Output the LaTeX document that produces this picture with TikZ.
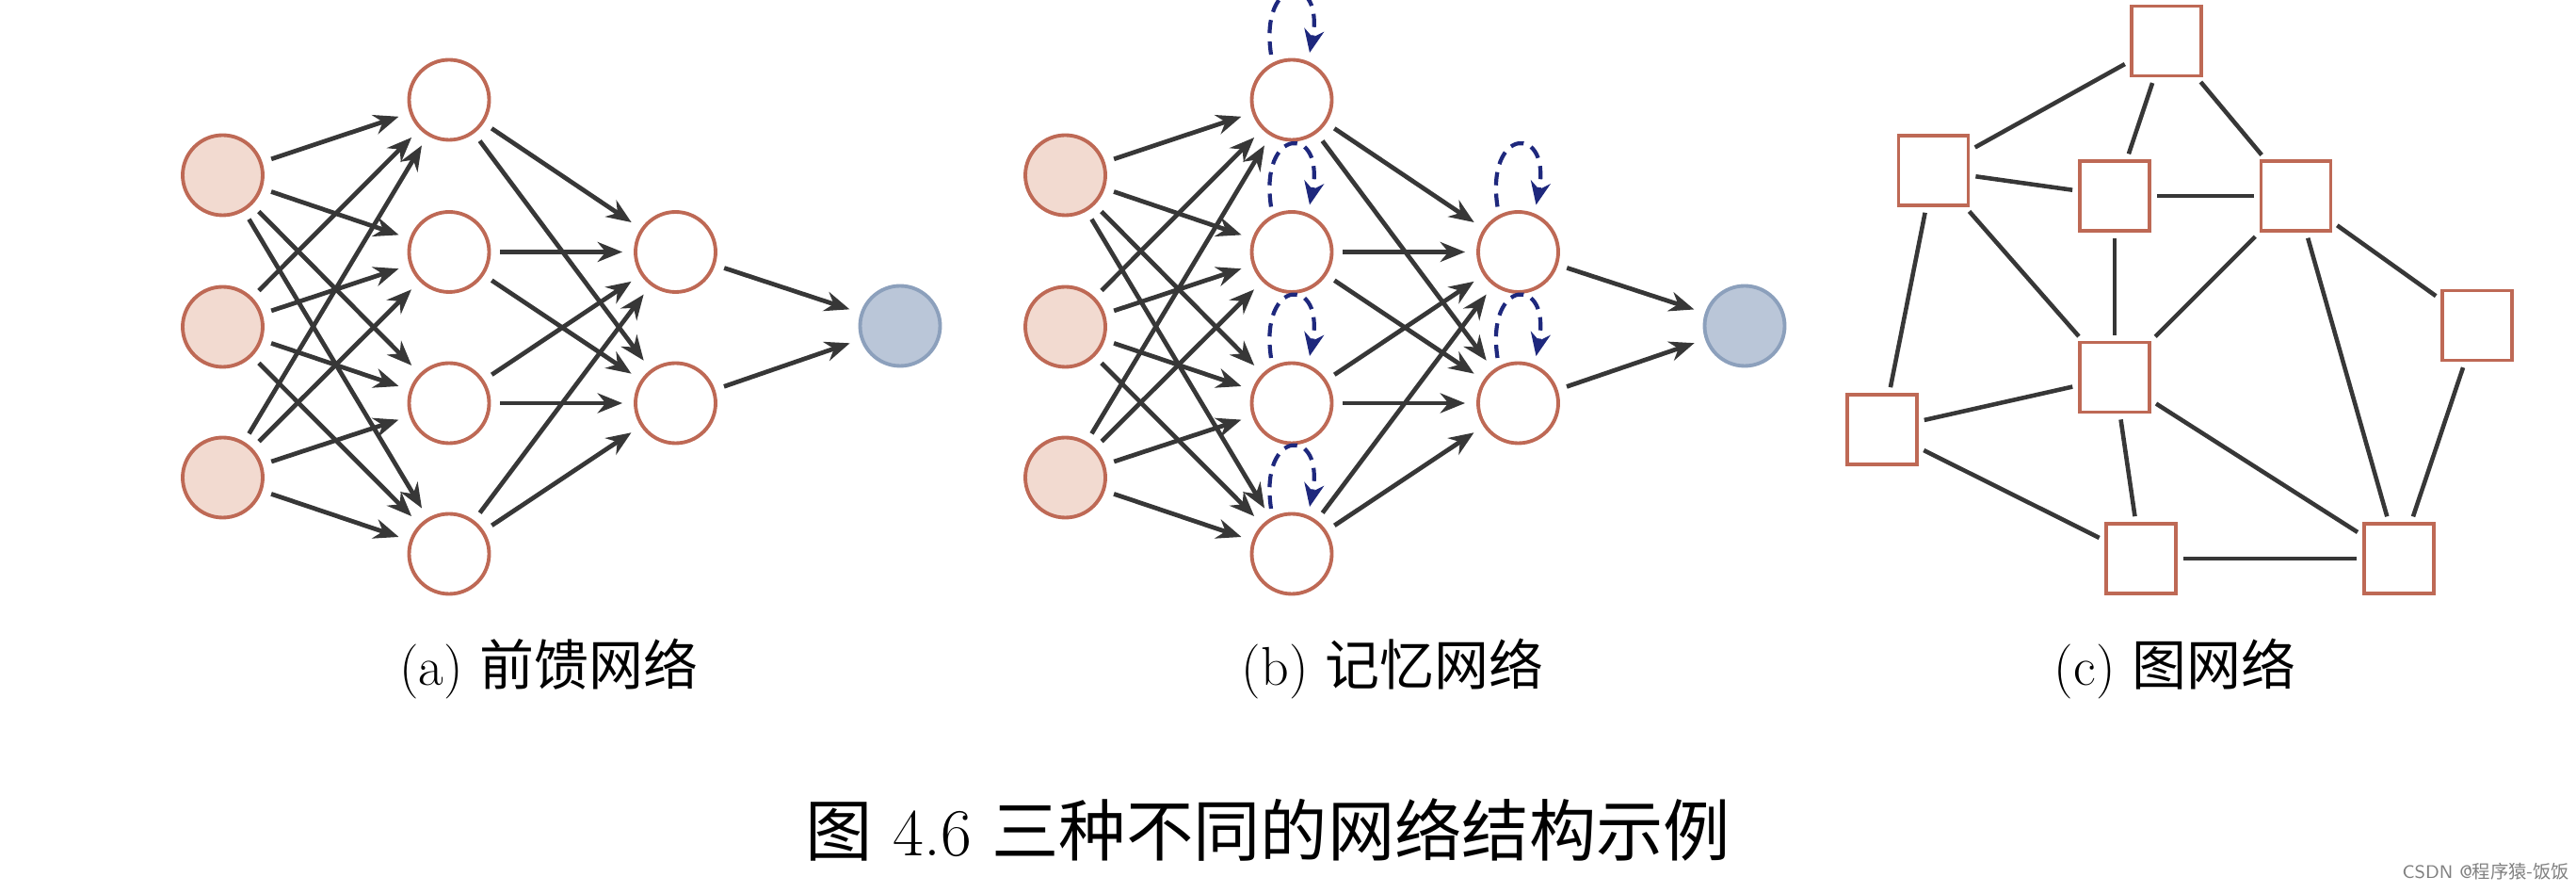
\documentclass[tikz,border=0pt]{standalone}
\usepackage{tikz}
\usepackage{fontspec}
\newfontfamily\cjk{Noto Sans CJK SC}
\usetikzlibrary{arrows.meta}
\usetikzlibrary{calc}
\definecolor{rimred}{RGB}{190,105,85}
\definecolor{fillred}{RGB}{242,218,208}
\definecolor{rimblue}{RGB}{140,160,188}
\definecolor{fillblue}{RGB}{186,198,216}
\definecolor{loopblue}{RGB}{30,40,125}
\definecolor{wire}{RGB}{55,55,55}
\tikzset{
    neuron/.style={circle, draw=rimred, line width=1.1pt, fill=white, minimum size=0.85cm, inner sep=0pt},
    inneuron/.style={neuron, fill=fillred},
    outneuron/.style={neuron, draw=rimblue, fill=fillblue},
    vertex/.style={rectangle, draw=rimred, line width=1.1pt, fill=white, minimum size=0.74cm, inner sep=0pt},
    feed/.style={wire, line width=1.35pt, -{Stealth[length=7.5pt,width=6pt]}, shorten <=0.1cm, shorten >=0.12cm},
    link/.style={wire, line width=1.3pt, shorten <=0.06cm, shorten >=0.06cm},
    selfloop/.style={loopblue, line width=1.2pt, dash pattern=on 4pt off 2.5pt, -{Stealth[length=7pt,width=6pt]}},
    subcap/.style={font=\fontsize{16.5}{19}\selectfont},
    maincap/.style={font=\fontsize{20.3}{24}\selectfont}
}
\begin{document}
\begin{tikzpicture}
        \useasboundingbox (0,0) rectangle (27.36,-9.48);
        \clip (0,0) rectangle (27.36,-9.48);
        \node[inneuron] (ai1) at (2.365,-1.86) {};
        \node[inneuron] (ai2) at (2.365,-3.47) {};
        \node[inneuron] (ai3) at (2.365,-5.07) {};
        \node[neuron] (ah1) at (4.77,-1.06) {};
        \node[neuron] (ah2) at (4.77,-2.675) {};
        \node[neuron] (ah3) at (4.77,-4.28) {};
        \node[neuron] (ah4) at (4.77,-5.88) {};
        \node[neuron] (ag1) at (7.175,-2.675) {};
        \node[neuron] (ag2) at (7.175,-4.28) {};
        \node[outneuron] (ao) at (9.56,-3.46) {};
        \draw[feed] (ai1) -- (ah1);
        \draw[feed] (ai1) -- (ah2);
        \draw[feed] (ai1) -- (ah3);
        \draw[feed] (ai1) -- (ah4);
        \draw[feed] (ai2) -- (ah1);
        \draw[feed] (ai2) -- (ah2);
        \draw[feed] (ai2) -- (ah3);
        \draw[feed] (ai2) -- (ah4);
        \draw[feed] (ai3) -- (ah1);
        \draw[feed] (ai3) -- (ah2);
        \draw[feed] (ai3) -- (ah3);
        \draw[feed] (ai3) -- (ah4);
        \draw[feed] (ah1) -- (ag1);
        \draw[feed] (ah1) -- (ag2);
        \draw[feed] (ah2) -- (ag1);
        \draw[feed] (ah2) -- (ag2);
        \draw[feed] (ah3) -- (ag1);
        \draw[feed] (ah3) -- (ag2);
        \draw[feed] (ah4) -- (ag1);
        \draw[feed] (ah4) -- (ag2);
        \draw[feed] (ag1) -- (ao);
        \draw[feed] (ag2) -- (ao);
        \node[subcap] (capa) at (5.83,-7.10) {(a) {\cjk 前馈网络}};
        \node[inneuron] (bi1) at (11.315,-1.86) {};
        \node[inneuron] (bi2) at (11.315,-3.47) {};
        \node[inneuron] (bi3) at (11.315,-5.07) {};
        \node[neuron] (bh1) at (13.72,-1.06) {};
        \node[neuron] (bh2) at (13.72,-2.675) {};
        \node[neuron] (bh3) at (13.72,-4.28) {};
        \node[neuron] (bh4) at (13.72,-5.88) {};
        \node[neuron] (bg1) at (16.125,-2.675) {};
        \node[neuron] (bg2) at (16.125,-4.28) {};
        \node[outneuron] (bo) at (18.53,-3.46) {};
        \draw[feed] (bi1) -- (bh1);
        \draw[feed] (bi1) -- (bh2);
        \draw[feed] (bi1) -- (bh3);
        \draw[feed] (bi1) -- (bh4);
        \draw[feed] (bi2) -- (bh1);
        \draw[feed] (bi2) -- (bh2);
        \draw[feed] (bi2) -- (bh3);
        \draw[feed] (bi2) -- (bh4);
        \draw[feed] (bi3) -- (bh1);
        \draw[feed] (bi3) -- (bh2);
        \draw[feed] (bi3) -- (bh3);
        \draw[feed] (bi3) -- (bh4);
        \draw[feed] (bh1) -- (bg1);
        \draw[feed] (bh1) -- (bg2);
        \draw[feed] (bh2) -- (bg1);
        \draw[feed] (bh2) -- (bg2);
        \draw[feed] (bh3) -- (bg1);
        \draw[feed] (bh3) -- (bg2);
        \draw[feed] (bh4) -- (bg1);
        \draw[feed] (bh4) -- (bg2);
        \draw[feed] (bg1) -- (bo);
        \draw[feed] (bg2) -- (bo);
        \draw[selfloop] ($(bh1)+(-0.22,0.48)$) .. controls +(-0.13,0.86) and +(0.17,0.86) .. ($(bh1)+(0.19,0.5)$);
        \draw[selfloop] ($(bh2)+(-0.22,0.48)$) .. controls +(-0.13,0.86) and +(0.17,0.86) .. ($(bh2)+(0.19,0.5)$);
        \draw[selfloop] ($(bh3)+(-0.22,0.48)$) .. controls +(-0.13,0.86) and +(0.17,0.86) .. ($(bh3)+(0.19,0.5)$);
        \draw[selfloop] ($(bh4)+(-0.22,0.48)$) .. controls +(-0.13,0.86) and +(0.17,0.86) .. ($(bh4)+(0.19,0.5)$);
        \draw[selfloop] ($(bg1)+(-0.22,0.48)$) .. controls +(-0.13,0.86) and +(0.17,0.86) .. ($(bg1)+(0.19,0.5)$);
        \draw[selfloop] ($(bg2)+(-0.22,0.48)$) .. controls +(-0.13,0.86) and +(0.17,0.86) .. ($(bg2)+(0.19,0.5)$);
        \node[subcap] (capb) at (14.79,-7.10) {(b) {\cjk 记忆网络}};
        \node[vertex] (c1) at (23.01,-0.435) {};
        \node[vertex] (c2) at (20.535,-1.81) {};
        \node[vertex] (c3) at (22.46,-2.08) {};
        \node[vertex] (c4) at (24.385,-2.08) {};
        \node[vertex] (c5) at (26.31,-3.455) {};
        \node[vertex] (c6) at (22.46,-4.005) {};
        \node[vertex] (c7) at (19.99,-4.56) {};
        \node[vertex] (c8) at (22.74,-5.93) {};
        \node[vertex] (c9) at (25.48,-5.93) {};
        \draw[link] (c1) -- (c2);
        \draw[link] (c1) -- (c3);
        \draw[link] (c1) -- (c4);
        \draw[link] (c2) -- (c3);
        \draw[link] (c3) -- (c4);
        \draw[link] (c2) -- (c6);
        \draw[link] (c2) -- (c7);
        \draw[link] (c3) -- (c6);
        \draw[link] (c4) -- (c6);
        \draw[link] (c4) -- (c5);
        \draw[link] (c4) -- (c9);
        \draw[link] (c6) -- (c7);
        \draw[link] (c6) -- (c8);
        \draw[link] (c6) -- (c9);
        \draw[link] (c7) -- (c8);
        \draw[link] (c8) -- (c9);
        \draw[link] (c5) -- (c9);
        \node[subcap] (capc) at (23.10,-7.10) {(c) {\cjk 图网络}};
        \node[maincap] (title) at (13.47,-8.81) {{\cjk 图} 4.6 {\cjk 三种不同的网络结构示例}};
        \node[gray, anchor=east, inner sep=0pt, font=\sffamily\fontsize{5.5}{7}\selectfont] (mark) at (27.30,-9.25) {CSDN @{\cjk 程序猿-饭饭}};
\end{tikzpicture}
\end{document}
